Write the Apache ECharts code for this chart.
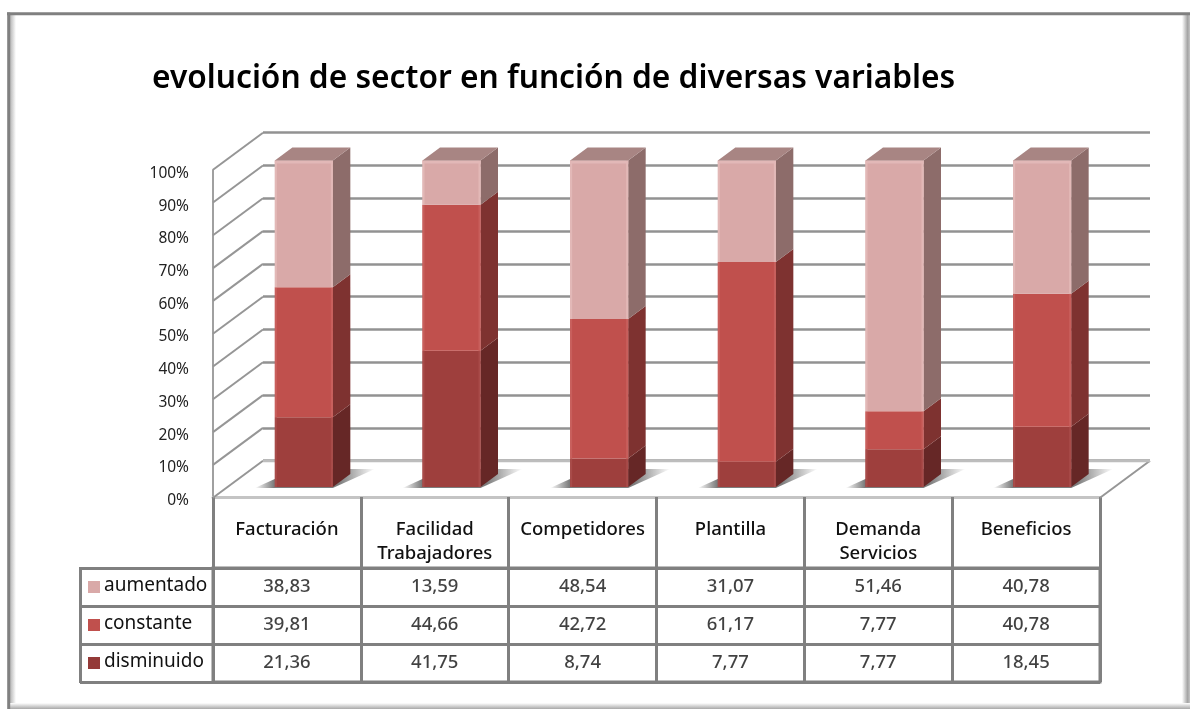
<!DOCTYPE html>
<html>
<head>
<meta charset="utf-8">
<style>
  html, body { margin: 0; background: #fff; }
  #main { width: 1190px; height: 709px; }
</style>
<script src="https://cdn.jsdelivr.net/npm/echarts@6/dist/echarts.min.js"></script>
</head>
<body>
<div id="main"></div>
<script>
const categories = ['Facturación', 'Facilidad\nTrabajadores', 'Competidores', 'Plantilla', 'Demanda\nServicios', 'Beneficios']
const rows = ['aumentado', 'constante', 'disminuido']
const aumentado = [38.83, 13.59, 48.54, 31.07, 51.46, 40.78]
const constante = [39.81, 44.66, 42.72, 61.17, 7.77, 40.78]
const disminuido = [21.36, 41.75, 8.74, 7.77, 7.77, 18.45]
const yTicks = [0, 10, 20, 30, 40, 50, 60, 70, 80, 90, 100]

const font = '"Noto Sans"'
const textColor = '#111'
const lineGray = '#808080'
const depth = [17.5, -13]
const wallDepth = [-50, 37]
const barWidth = 58
const colors = {
  aumentado: { front: '#d9a9a8', edge: '#e2b8b7', side: '#8d6c6a', top: '#a88583' },
  constante: { front: '#c0504d', edge: '#c85f5c', side: '#7e3230' },
  disminuido: { front: '#9e3f3d', edge: '#a84b49', side: '#662726', swatch: '#943a38' }
}

// the chart is 100% stacked, so each column is scaled by its own total
const totals = categories.map((c, i) => aumentado[i] + constante[i] + disminuido[i])
const pct = (arr, i) => arr[i] / totals[i] * 100
const segments = (arr, below) => arr.map((v, i) => {
  let start = below.reduce((sum, b) => sum + pct(b, i), 0)
  return [i, start, start + pct(arr, i)]
})

const cuboid = name => (params, api) => {
  let c = colors[name]
  let lo = api.coord([api.value(0), api.value(1)])
  let hi = api.coord([api.value(0), api.value(2)])
  let x0 = lo[0] - barWidth / 2
  let x1 = x0 + barWidth
  let h = lo[1] - hi[1]
  let children = [
    { type: 'polygon', shape: { points: [[x1, hi[1]], [x1 + depth[0], hi[1] + depth[1]], [x1 + depth[0], lo[1] + depth[1]], [x1, lo[1]]] }, style: { fill: c.side } },
    { type: 'rect', shape: { x: x0, y: hi[1], width: barWidth, height: h }, style: { fill: c.front } },
    { type: 'rect', shape: { x: x0, y: hi[1], width: 2, height: h }, style: { fill: c.edge } },
    { type: 'rect', shape: { x: x1 - 2, y: hi[1], width: 2, height: h }, style: { fill: c.edge } }
  ]
  if (c.top) {
    children.push({ type: 'rect', shape: { x: x0, y: hi[1], width: barWidth, height: 3 }, style: { fill: c.edge } })
    children.push({ type: 'polygon', shape: { points: [[x0, hi[1]], [x0 + depth[0], hi[1] + depth[1]], [x1 + depth[0], hi[1] + depth[1]], [x1, hi[1]]] }, style: { fill: c.top } })
  }
  return { type: 'group', children }
}

const barSeries = (name, arr, below) => ({
  name,
  type: 'custom',
  xAxisIndex: 2,
  yAxisIndex: 2,
  clip: false,
  z: 4,
  renderItem: cuboid(name),
  encode: { x: 0, y: [1, 2] },
  data: segments(arr, below)
})

const tableSeries = (name, arr) => ({
  type: 'scatter',
  xAxisIndex: 3,
  yAxisIndex: 3,
  symbolSize: 1,
  itemStyle: { color: 'transparent' },
  silent: true,
  label: {
    show: true,
    position: 'inside',
    formatter: p => p.value[2],
    fontFamily: font,
    fontSize: 18.5,
    fontWeight: 500,
    color: textColor
  },
  data: arr.map((v, i) => [i, name, v.toFixed(2).replace('.', ',')])
})

const swatch = color => ({ width: 12, height: 12, backgroundColor: color })
const rowText = { fontFamily: font, fontSize: 19, color: textColor, padding: [0, 0, 2, 4] }

const option = {
  animation: false,
  title: {
    text: 'evolución de sector en función de diversas variables',
    left: 147,
    top: 58,
    textStyle: { fontFamily: font, fontSize: 31.7, fontWeight: 600, color: '#000' }
  },
  grid: [
    { left: 213, top: 170, width: 887, height: 327 },
    { left: 263, top: 132.7, width: 887, height: 328 },
    { left: 230, top: 160.5, width: 886, height: 326.5 },
    { left: 213, top: 568, width: 887, height: 114, show: true, borderColor: lineGray, borderWidth: 3 }
  ],
  xAxis: [
    {
      gridIndex: 0,
      type: 'category',
      data: categories,
      axisLine: { lineStyle: { color: '#c4c4c4', width: 3 } },
      axisTick: { show: true, interval: 0, length: 71, lineStyle: { color: lineGray, width: 3 } },
      axisLabel: { interval: 0, margin: 21, verticalAlign: 'top', lineHeight: 24, fontFamily: font, fontSize: 18.5, fontWeight: 500, color: textColor }
    },
    { gridIndex: 1, type: 'category', data: categories, show: false },
    { gridIndex: 2, type: 'category', data: categories, show: false },
    {
      gridIndex: 3,
      type: 'category',
      data: categories,
      axisLine: { show: false },
      axisTick: { show: false },
      axisLabel: { show: false },
      splitLine: { show: true, interval: 0, lineStyle: { color: lineGray, width: 3 } }
    }
  ],
  yAxis: [
    {
      gridIndex: 0,
      type: 'value',
      min: 0,
      max: 100,
      interval: 10,
      splitLine: { show: false },
      axisLine: { show: true, lineStyle: { color: '#a0a0a0', width: 2 } },
      axisTick: { show: false },
      axisLabel: {
        margin: 24,
        formatter: v => '{l|' + v + '%}',
        rich: { l: { fontFamily: font, fontSize: 15.5, color: '#222', padding: [7, 0, 0, 0] } }
      }
    },
    {
      gridIndex: 1,
      type: 'value',
      min: 0,
      max: 100,
      interval: 10,
      axisLabel: { show: false },
      axisTick: { show: false },
      axisLine: { show: false },
      splitLine: { lineStyle: { color: '#929292', width: 2.5 } }
    },
    { gridIndex: 2, type: 'value', min: 0, max: 100, interval: 10, show: false, splitLine: { show: false } },
    {
      gridIndex: 3,
      type: 'category',
      inverse: true,
      data: rows,
      axisLine: { show: false },
      axisTick: { show: true, length: 133, lineStyle: { color: lineGray, width: 3 } },
      splitLine: { show: true, interval: 0, lineStyle: { color: lineGray, width: 3 } },
      axisLabel: {
        interval: 0,
        align: 'left',
        margin: 125,
        formatter: v => '{' + v + '|}{t|' + v + '}',
        rich: {
          aumentado: swatch(colors.aumentado.front),
          constante: swatch(colors.constante.front),
          disminuido: swatch(colors.disminuido.swatch),
          t: rowText
        }
      }
    }
  ],
  series: [
    {
      // side wall and floor edges
      type: 'custom',
      xAxisIndex: 1,
      yAxisIndex: 1,
      clip: false,
      z: 1,
      silent: true,
      encode: { y: 0 },
      renderItem: (params, api) => {
        let v = api.value(0)
        let back = api.coord([0, v])
        back[0] -= api.size([1, 0])[0] / 2
        let lines = [{
          type: 'line',
          shape: { x1: back[0], y1: back[1], x2: back[0] + wallDepth[0], y2: back[1] + wallDepth[1] },
          style: { stroke: '#969696', lineWidth: 2 }
        }]
        if (v === 0) {
          let right = api.coord([categories.length - 1, 0])
          right[0] += api.size([1, 0])[0] / 2
          lines.push({
            type: 'line',
            shape: { x1: right[0], y1: right[1], x2: right[0] + wallDepth[0], y2: right[1] + wallDepth[1] },
            style: { stroke: '#969696', lineWidth: 2 }
          })
          lines.push({
            type: 'line',
            shape: { x1: back[0], y1: back[1], x2: right[0], y2: right[1] },
            style: { stroke: '#bdbdbd', lineWidth: 3 }
          })
        }
        return { type: 'group', children: lines }
      },
      data: yTicks.map(t => [t])
    },
    {
      // soft shadow on the floor
      type: 'custom',
      xAxisIndex: 2,
      yAxisIndex: 2,
      clip: false,
      z: 2,
      silent: true,
      encode: { x: 0 },
      renderItem: (params, api) => {
        let p = api.coord([api.value(0), 0])
        let x0 = p[0] - barWidth / 2
        let y = p[1] + 1
        return {
          type: 'polygon',
          shape: { points: [[x0 - 20, y], [x0 + barWidth, y], [x0 + barWidth + 42, y - 19], [x0 + 22, y - 19]] },
          style: {
            fill: {
              type: 'linear', x: 0, y: 0, x2: 1, y2: 0,
              colorStops: [
                { offset: 0, color: 'rgba(110,110,110,0)' },
                { offset: 0.16, color: 'rgba(110,110,110,0.9)' },
                { offset: 0.7, color: 'rgba(110,110,110,0.9)' },
                { offset: 1, color: 'rgba(110,110,110,0)' }
              ]
            }
          }
        }
      },
      data: categories.map((c, i) => [i])
    },
    barSeries('disminuido', disminuido, []),
    barSeries('constante', constante, [disminuido]),
    barSeries('aumentado', aumentado, [disminuido, constante]),
    tableSeries('aumentado', aumentado),
    tableSeries('constante', constante),
    tableSeries('disminuido', disminuido)
  ],
  graphic: [
    // page frame: hard top and left, soft right and bottom
    { type: 'rect', silent: true, z: -1, shape: { x: 10, y: 15, width: 6, height: 694 }, style: { fill: { type: 'linear', x: 0, y: 0, x2: 1, y2: 0, colorStops: [{ offset: 0, color: '#b5b5b5' }, { offset: 1, color: '#fff' }] } } },
    { type: 'rect', silent: true, z: -1, shape: { x: 1182, y: 15, width: 8, height: 694 }, style: { fill: { type: 'linear', x: 0, y: 0, x2: 1, y2: 0, colorStops: [{ offset: 0, color: '#fff' }, { offset: 0.7, color: '#a4a4a4' }, { offset: 1, color: '#c4c4c4' }] } } },
    { type: 'rect', silent: true, z: -1, shape: { x: 10, y: 703, width: 1180, height: 6 }, style: { fill: { type: 'linear', x: 0, y: 0, x2: 0, y2: 1, colorStops: [{ offset: 0, color: '#fff' }, { offset: 1, color: '#a8a8a8' }] } } },
    { type: 'line', silent: true, z: -1, shape: { x1: 8.7, y1: 12.5, x2: 8.7, y2: 709 }, style: { stroke: lineGray, lineWidth: 3 } },
    { type: 'line', silent: true, z: -1, shape: { x1: 7, y1: 13.7, x2: 1190, y2: 13.7 }, style: { stroke: lineGray, lineWidth: 3 } },
    // left edge of the data table
    { type: 'line', silent: true, shape: { x1: 80.5, y1: 567, x2: 80.5, y2: 683 }, style: { stroke: lineGray, lineWidth: 3 } }
  ]
}

const myChart = echarts.init(document.getElementById('main'))
myChart.setOption(option)
</script>
</body>
</html>
